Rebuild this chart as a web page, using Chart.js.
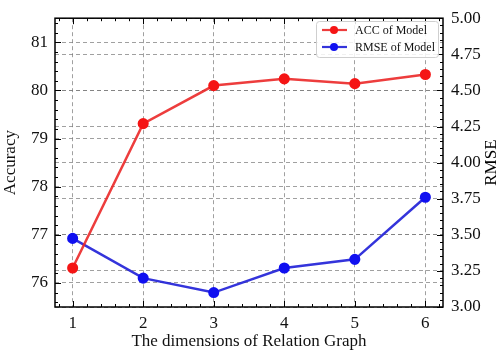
<!DOCTYPE html>
<html>
<head>
<meta charset="utf-8">
<script src="https://cdn.jsdelivr.net/npm/chart.js@4.4.1/dist/chart.umd.min.js"></script>
<style>
    html, body { margin: 0; padding: 0; background: #fff; }
    #wrap { width: 502px; height: 352px; }
</style>
</head>
<body>
<div id="wrap"><canvas id="chart"></canvas></div>
<script>
const dimensions = [1, 2, 3, 4, 5, 6];
const accValues = [76.31, 79.31, 80.10, 80.24, 80.14, 80.33];
const rmseValues = [3.475, 3.20, 3.10, 3.27, 3.33, 3.76];
const accTicks = [76, 77, 78, 79, 80, 81];
const rmseTicks = [3.00, 3.25, 3.50, 3.75, 4.00, 4.25, 4.50, 4.75, 5.00];

const FONT = "'Liberation Serif', 'DejaVu Serif', serif";
const gridStyle = { color: 'rgba(120,120,120,0.7)', lineWidth: 1, drawTicks: false };

// inward major/minor ticks + black frame + rotated right title
const framePlugin = {
    id: 'frame',
    afterDatasetsDraw(chart) {
        const { ctx, chartArea: a, scales } = chart;
        ctx.save();
        ctx.strokeStyle = '#000';
        ctx.lineWidth = 1;
        const tick = (x1, y1, x2, y2) => {
            ctx.beginPath(); ctx.moveTo(x1, y1); ctx.lineTo(x2, y2); ctx.stroke();
        };
        // x ticks, bottom and top
        for (let v = 0.8; v <= 6.2 + 1e-9; v += 0.2) {
            const x = Math.round(scales.x.getPixelForValue(v)) + 0.5;
            const major = Math.abs(v - Math.round(v)) < 1e-6;
            const len = major ? 6 : 3;
            tick(x, a.bottom, x, a.bottom - len);
            tick(x, a.top, x, a.top + len);
        }
        // left ticks
        for (let v = 75.6; v <= 81.4 + 1e-9; v += 0.2) {
            const y = Math.round(scales.y.getPixelForValue(v)) + 0.5;
            const major = Math.abs(v - Math.round(v)) < 1e-6;
            tick(a.left, y, a.left + (major ? 6 : 3), y);
        }
        // right ticks
        for (let v = 3.0; v <= 5.0 + 1e-9; v += 0.05) {
            const y = Math.round(scales.y1.getPixelForValue(v)) + 0.5;
            const major = Math.abs(v * 4 - Math.round(v * 4)) < 1e-6;
            tick(a.right, y, a.right - (major ? 6 : 3), y);
        }
        ctx.lineWidth = 1.5;
        ctx.strokeRect(a.left, a.top, a.right - a.left, a.bottom - a.top);

        // right axis title reading bottom to top
        ctx.fillStyle = '#000';
        ctx.font = '17px ' + FONT;
        ctx.textAlign = 'center';
        ctx.textBaseline = 'middle';
        ctx.translate(492, (a.top + a.bottom) / 2);
        ctx.rotate(-Math.PI / 2);
        ctx.fillText('RMSE', 0, 0);
        ctx.restore();
    }
};

// legend with line + marker samples
const legendPlugin = {
    id: 'boxLegend',
    afterDraw(chart) {
        const { ctx } = chart;
        const x0 = 316, y0 = 21, w = 122, h = 36;
        ctx.save();
        ctx.fillStyle = 'rgba(255,255,255,0.85)';
        ctx.strokeStyle = '#cfcfcf';
        ctx.lineWidth = 1;
        ctx.beginPath();
        ctx.roundRect(x0 + 0.5, y0 + 0.5, w, h, 3);
        ctx.fill();
        ctx.stroke();
        ctx.font = '12px ' + FONT;
        ctx.textBaseline = 'middle';
        chart.data.datasets.forEach((ds, i) => {
            const y = y0 + 9 + i * 17;
            ctx.strokeStyle = ds.borderColor;
            ctx.lineWidth = 2.2;
            ctx.beginPath(); ctx.moveTo(x0 + 6, y); ctx.lineTo(x0 + 31, y); ctx.stroke();
            ctx.fillStyle = ds.pointBackgroundColor;
            ctx.beginPath(); ctx.arc(x0 + 18, y, 4, 0, Math.PI * 2); ctx.fill();
            ctx.fillStyle = '#111';
            ctx.fillText(ds.label, x0 + 39, y + 1);
        });
        ctx.restore();
    }
};

new Chart(document.getElementById('chart'), {
    type: 'line',
    data: {
        datasets: [
            {
                label: 'ACC of Model',
                data: dimensions.map((d, i) => ({ x: d, y: accValues[i] })),
                yAxisID: 'y',
                borderColor: 'rgba(235,40,40,0.9)',
                pointBackgroundColor: '#f51515',
                pointBorderColor: '#f51515',
                borderWidth: 2.5,
                pointRadius: 4.3,
                tension: 0
            },
            {
                label: 'RMSE of Model',
                data: dimensions.map((d, i) => ({ x: d, y: rmseValues[i] })),
                yAxisID: 'y1',
                borderColor: 'rgba(30,30,215,0.9)',
                pointBackgroundColor: '#1010f0',
                pointBorderColor: '#1010f0',
                borderWidth: 2.5,
                pointRadius: 4.3,
                tension: 0
            }
        ]
    },
    options: {
        responsive: true,
        maintainAspectRatio: false,
        animation: false,
        layout: { padding: { top: 15, right: 0, bottom: 0, left: 0 } },
        plugins: { legend: { display: false }, tooltip: { enabled: false } },
        scales: {
            x: {
                type: 'linear',
                min: 0.75,
                max: 6.25,
                afterBuildTicks: s => { s.ticks = dimensions.map(v => ({ value: v })); },
                afterFit: s => { s.height = 45; },
                grid: gridStyle,
                border: { display: false, dash: [4, 3] },
                ticks: { color: '#111', padding: 6, font: { family: FONT, size: 17 } },
                title: {
                    display: true,
                    text: 'The dimensions of Relation Graph',
                    color: '#111',
                    padding: { top: 0, bottom: 0 },
                    font: { family: FONT, size: 17 }
                }
            },
            y: {
                position: 'left',
                min: 75.5,
                max: 81.5,
                afterBuildTicks: s => { s.ticks = accTicks.map(v => ({ value: v })); },
                afterFit: s => { s.width = 55; },
                grid: gridStyle,
                border: { display: false, dash: [4, 3] },
                ticks: { color: '#111', padding: 7, font: { family: FONT, size: 17 } },
                title: {
                    display: true,
                    text: 'Accuracy',
                    color: '#111',
                    padding: { top: 0, bottom: 2 },
                    font: { family: FONT, size: 17 }
                }
            },
            y1: {
                position: 'right',
                min: 3,
                max: 5,
                afterBuildTicks: s => { s.ticks = rmseTicks.map(v => ({ value: v })); },
                afterFit: s => { s.width = 59; },
                grid: gridStyle,
                border: { display: false, dash: [4, 3] },
                ticks: {
                    color: '#111',
                    padding: 8,
                    font: { family: FONT, size: 17 },
                    callback: v => Number(v).toFixed(2)
                }
            }
        }
    },
    plugins: [framePlugin, legendPlugin]
});
</script>
</body>
</html>
